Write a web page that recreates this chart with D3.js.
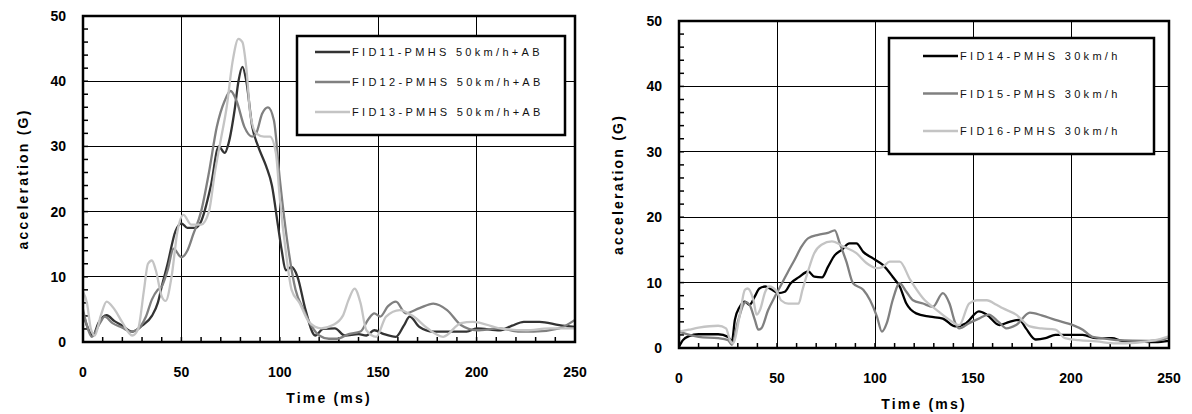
<!DOCTYPE html>
<meta charset="utf-8">
<script src="https://cdn.jsdelivr.net/npm/d3@7"></script>
<style>
  body { margin: 0; background: #fff; }
  svg { display: block; }
  .tick-label { font: bold 14px "Liberation Sans", Arial, sans-serif; fill: #000; }
  .axis-title { font: bold 14px "Liberation Sans", Arial, sans-serif; fill: #000; letter-spacing: 2.2px; }
  .legend-text { font: 11px "Liberation Sans", Arial, sans-serif; fill: #111; letter-spacing: 3.3px; }
  .grid { stroke: #000; stroke-width: 1px; shape-rendering: crispEdges; }
  .minor { stroke: #000; stroke-width: 1.5px; }
  .frame { fill: none; stroke: #000; stroke-width: 2.5px; }
  .series { fill: none; stroke-width: 2.3px; stroke-linejoin: round; }
</style>
<body>
<script>
// [time (ms), acceleration (G)]
var fid11 = [[0,4.5],[2,2.5],[5,1],[8,3],[12,4.1],[16,3.2],[20,2.5],[25,1.6],[30,2.5],[35,4],[38,6],[40,8.5],[43,12],[47,17],[50,18.2],[53,17.5],[57,17.5],[60,18.5],[65,24],[69,30],[72,29],[74,30.5],[77,35.5],[79,40],[81,42.2],[83,40],[86,33],[89,30],[93,27],[96,24],[99,18],[101,14],[103,11],[106,11.5],[109,10],[113,5],[118,1],[122,2],[128,2.1],[133,1],[140,1.2],[144,1],[148,1.8],[153,1.2],[159,0.8],[163,2.5],[166,3.9],[171,2.3],[178,1.6],[186,1.6],[195,1.6],[200,2.1],[212,1.8],[218,2.5],[224,3.1],[232,3.1],[242,2.6],[250,2.3]];
var fid12 = [[0,5],[2,2.5],[4.4,0.8],[8.6,2.9],[11,3.9],[15,2.9],[20,2.2],[24,1.6],[27,1.8],[32,3.9],[35,6.5],[38,8],[40,8.5],[43,11],[46,14.3],[50,13],[53,14],[56,16.5],[60,20],[64,26],[68,33],[72,37],[75,38.5],[78,37],[82,33],[86,31.5],[88,32],[91,35],[94,36],[97,34],[100,25],[104,15],[108,8],[112,5],[116,2.5],[120,1],[125,0.5],[129,0.5],[135,1.2],[141,1.6],[145,3.5],[148,4.4],[151,3.9],[155,5.5],[159,6.2],[164,4.4],[171,5.2],[178,5.9],[185,4.9],[192,2.6],[200,1.8],[212,2.1],[221,1.6],[229,1.6],[242,2.1],[250,3.4]];
var fid13 = [[0,7.7],[2,6],[4,2],[6,1],[9,4],[12,6.2],[16,5],[20,3],[25,1],[28,2],[31,8],[33,12],[35,12.5],[37,11],[40,7],[42,6.3],[45,10],[48,17],[51,19.5],[55,18],[60,18],[64,20],[67,26],[70,31],[73,36],[76,43],[79,46.5],[81,46],[83,42],[85,35],[88,32],[92,31.5],[95,31.5],[98,29],[100,22],[103,14],[106,8],[110,6],[115,3],[121,2.1],[127,2.6],[132,4],[135,6.5],[138,8.2],[141,6],[144,1.8],[149,0.8],[154,3.9],[161,4.9],[168,3.9],[175,2.1],[183,0.8],[192,2.9],[198,3.1],[212,2.1],[225,1.8],[237,2.1],[250,2.1]];

var fid14 = [[0,0.2],[2,1.2],[5,1.8],[10,2.1],[20,2.1],[25,1.7],[27,1],[28.5,4.3],[31,6.3],[33.6,7.1],[36,6.6],[38.7,7.9],[41,9.1],[44,9.4],[47,9],[50.6,8.4],[54,8.6],[57,9.9],[61,10.8],[66,11.7],[69,10.9],[73,10.8],[76,12.4],[79.5,14.2],[83,15],[87,16],[90.5,16],[94,14.7],[99,13.7],[104,12.7],[109,10.9],[112.6,9.4],[116,6.8],[121,5.3],[128,4.8],[134.6,4.5],[141,3.3],[146.5,3.8],[153,5.6],[157,5.1],[163.5,3.5],[168.6,4],[173.7,4.3],[177,3],[182,1.3],[187,1.5],[192,2],[206,2],[213,1.5],[221,1.5],[226,1.1],[235,1],[243,0.9],[250,1.1]];
var fid15 = [[0,2.5],[10,1.7],[20,1.5],[25,1.2],[27,0.5],[30,4],[34,7],[36,6.6],[38.7,4.3],[40.5,2.8],[42,3],[45.5,5.8],[49,7.9],[52,9.6],[55.7,11.7],[59,13.5],[62.5,15.5],[66,16.8],[71,17.3],[76,17.6],[79.5,18],[82,16],[85.4,13.2],[88.8,9.9],[94,8.9],[97.5,7.3],[101,4.8],[103.5,2.5],[106,3.8],[109,7.3],[112.6,9.9],[116,8.6],[119.4,7.3],[124.5,6.8],[129.5,6.3],[134.6,8.4],[138,6.8],[141,3.8],[143,3],[148,3.8],[153,4.5],[158,5.1],[163,4],[167,3],[172,3.5],[179,5.4],[185,5],[192,4.3],[201,3.5],[206,2.8],[211,1.7],[216,1.5],[223,1.2],[240,1.1],[247,1.3],[250,1.7]];
var fid16 = [[0,2.5],[5,2.8],[10,3.1],[20,3.4],[24,3],[26,1.2],[27.5,0.7],[31,5],[33.6,8.9],[35,9.1],[38,7.3],[39.6,5.1],[41.3,5.8],[44,8.6],[46,9.4],[50,8.6],[52,7.3],[55.7,6.8],[61,6.8],[63,8.9],[66,11.9],[69,14.5],[72.7,15.8],[78,16.3],[84,15.5],[90.5,14.5],[95.6,13],[101,12.2],[104,12.4],[107.5,13.2],[112.6,13.2],[118,10.4],[124.5,7.6],[131.5,5.8],[138,4.3],[143,3.5],[148,6.8],[152,7.3],[157,7.3],[162,6.6],[165,6.1],[172,5.1],[179,3.3],[185,3],[192,2.8],[197,1.5],[204,1.2],[213,1],[223,0.7],[233,0.8],[243,1.2],[250,1.8]];

var leftNames = ['FID11-PMHS 50km/h+AB', 'FID12-PMHS 50km/h+AB', 'FID13-PMHS 50km/h+AB'];
var rightNames = ['FID14-PMHS 30km/h', 'FID15-PMHS 30km/h', 'FID16-PMHS 30km/h'];
var xTicks = [0, 50, 100, 150, 200, 250];
var yTicks = [0, 10, 20, 30, 40, 50];
var xTitle = 'Time (ms)';
var yTitle = 'acceleration (G)';

var svg = d3.select('body').append('svg')
  .attr('width', 1192)
  .attr('height', 414);

function panel(cfg) {
  var x = d3.scaleLinear().domain([0, 250]).range([cfg.left, cfg.right]);
  var y = d3.scaleLinear().domain([0, 50]).range([cfg.bottom, cfg.top]);
  var g = svg.append('g');

  // grid lines
  g.selectAll('line.gx').data(xTicks.slice(1, -1)).enter().append('line')
    .attr('class', 'grid')
    .attr('x1', x).attr('x2', x)
    .attr('y1', cfg.top).attr('y2', cfg.bottom);
  g.selectAll('line.gy').data(yTicks.slice(1, -1)).enter().append('line')
    .attr('class', 'grid')
    .attr('x1', cfg.left).attr('x2', cfg.right)
    .attr('y1', y).attr('y2', y);

  // minor ticks, pointing inward
  g.selectAll('line.mx').data(d3.range(10, 250, 10)).enter().append('line')
    .attr('class', 'minor')
    .attr('x1', x).attr('x2', x)
    .attr('y1', cfg.bottom).attr('y2', cfg.bottom - 5);
  g.selectAll('line.my').data(d3.range(2, 50, 2)).enter().append('line')
    .attr('class', 'minor')
    .attr('x1', cfg.left).attr('x2', cfg.left + 5)
    .attr('y1', y).attr('y2', y);

  var line = d3.line()
    .x(function(d){ return x(d[0]); })
    .y(function(d){ return y(d[1]); })
    .curve(d3.curveMonotoneX);

  g.selectAll('path.series').data(cfg.series).enter().append('path')
    .attr('class', 'series')
    .attr('stroke', function(d, i){ return cfg.colors[i]; })
    .attr('d', line);

  g.append('rect').attr('class', 'frame')
    .attr('x', cfg.left).attr('y', cfg.top)
    .attr('width', cfg.right - cfg.left).attr('height', cfg.bottom - cfg.top);

  // tick labels
  g.selectAll('text.tx').data(xTicks).enter().append('text')
    .attr('class', 'tick-label')
    .attr('x', x).attr('y', cfg.bottom + 35)
    .attr('text-anchor', 'middle')
    .text(function(d){ return d; });
  g.selectAll('text.ty').data(yTicks).enter().append('text')
    .attr('class', 'tick-label')
    .attr('x', cfg.left - 17).attr('y', function(d){ return y(d) + 5; })
    .attr('text-anchor', 'end')
    .text(function(d){ return d; });

  g.append('text').attr('class', 'axis-title')
    .attr('x', (cfg.left + cfg.right) / 2).attr('y', cfg.bottom + 61)
    .attr('text-anchor', 'middle')
    .text(xTitle);
  g.append('text').attr('class', 'axis-title')
    .attr('transform', 'translate(' + cfg.ytitleX + ',' + ((cfg.top + cfg.bottom) / 2) + ') rotate(-90)')
    .attr('text-anchor', 'middle')
    .text(yTitle);

  // legend
  var L = cfg.legend;
  g.append('rect').attr('class', 'frame')
    .attr('x', L.x).attr('y', L.y).attr('width', L.w).attr('height', L.h)
    .style('fill', '#fff');
  var rows = g.selectAll('g.lg').data(cfg.names).enter().append('g')
    .attr('transform', function(d, i){ return 'translate(' + (L.x + L.pad) + ',' + (L.y + L.first + i * L.step) + ')'; });
  rows.append('line')
    .attr('x1', 0).attr('x2', 35).attr('y1', 0).attr('y2', 0)
    .attr('stroke', function(d, i){ return cfg.colors[i]; })
    .attr('stroke-width', 2.3);
  rows.append('text').attr('class', 'legend-text')
    .attr('x', 37).attr('y', 4)
    .text(function(d){ return d; });
}

panel({
  left: 83, right: 575, top: 16, bottom: 342, ytitleX: 28,
  series: [fid11, fid12, fid13],
  names: leftNames,
  colors: ['#333333', '#808080', '#c4c4c4'],
  legend: { x: 297, y: 36, w: 268, h: 99, pad: 18, first: 16, step: 30 }
});

panel({
  left: 679, right: 1169, top: 21, bottom: 348, ytitleX: 623,
  series: [fid14, fid15, fid16],
  names: rightNames,
  colors: ['#000000', '#808080', '#c4c4c4'],
  legend: { x: 889, y: 38, w: 265, h: 116, pad: 34, first: 18, step: 37.5 }
});
</script>
</body>
</html>
